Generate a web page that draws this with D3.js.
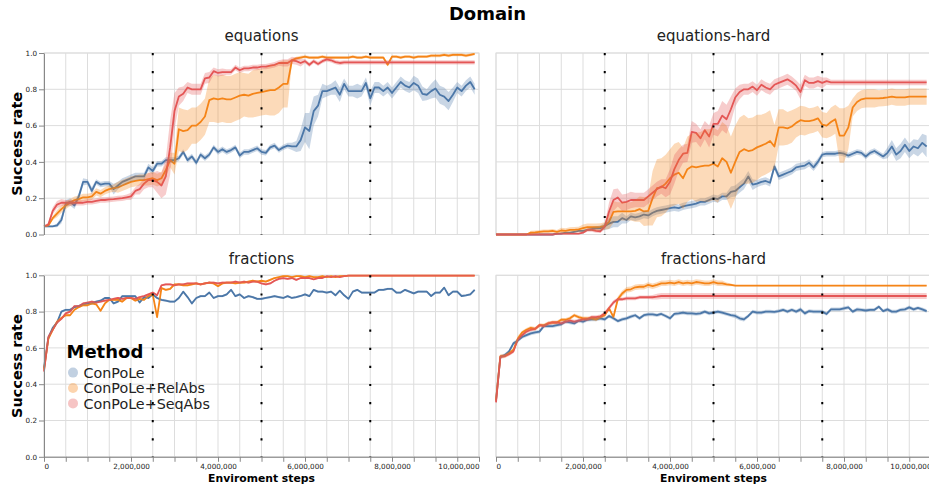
<!DOCTYPE html>
<html>
<head>
<meta charset="utf-8">
<script src="https://cdn.jsdelivr.net/npm/d3@7"></script>
<style>
  body { margin: 0; background: #fff; }
  svg { font-family: "DejaVu Sans", sans-serif; }
</style>
</head>
<body>
<svg id="chart" width="929" height="486"></svg>
<script>
// ************************************
// Data (success rate every 100,000 steps)
// ************************************
const stepSize = 100000;
const domains = ["equations", "equations-hard", "fractions", "fractions-hard"];
const methods = ["ConPoLe", "ConPoLe+RelAbs", "ConPoLe+SeqAbs"];
const yTicks = [0, 0.2, 0.4, 0.6, 0.8, 1.0];
const phaseSteps = [2500000, 5000000, 7500000];

// equations
const eqConPoLe = [
  0.045,0.045,0.045,0.05,0.08,0.17,0.18,0.16,0.21,0.29,
  0.29,0.24,0.29,0.275,0.28,0.28,0.25,0.27,0.29,0.30,
  0.31,0.32,0.32,0.32,0.37,0.35,0.39,0.39,0.41,0.41,
  0.41,0.42,0.455,0.41,0.43,0.395,0.44,0.42,0.44,0.48,
  0.455,0.47,0.455,0.465,0.48,0.435,0.455,0.455,0.465,0.475,
  0.455,0.45,0.48,0.49,0.465,0.48,0.49,0.485,0.485,0.52,
  0.59,0.57,0.68,0.71,0.79,0.79,0.80,0.81,0.77,0.83,
  0.79,0.79,0.79,0.79,0.835,0.75,0.81,0.81,0.79,0.81,
  0.78,0.81,0.84,0.82,0.81,0.835,0.82,0.775,0.77,0.79,
  0.805,0.77,0.76,0.735,0.77,0.81,0.79,0.82,0.84,0.80];
const eqConPoLeBand = [
  0.005,0.005,0.005,0.01,0.02,0.02,0.02,0.02,0.02,0.02,
  0.015,0.02,0.015,0.015,0.015,0.015,0.03,0.02,0.02,0.02,
  0.02,0.02,0.02,0.02,0.02,0.02,0.015,0.015,0.015,0.015,
  0.015,0.015,0.015,0.015,0.015,0.015,0.015,0.015,0.015,0.015,
  0.015,0.015,0.015,0.015,0.015,0.015,0.015,0.015,0.015,0.015,
  0.015,0.015,0.015,0.015,0.015,0.015,0.015,0.02,0.03,0.06,
  0.08,0.1,0.08,0.06,0.04,0.03,0.03,0.04,0.04,0.03,
  0.03,0.03,0.04,0.03,0.03,0.04,0.03,0.03,0.03,0.03,
  0.03,0.03,0.03,0.03,0.03,0.04,0.04,0.04,0.03,0.04,
  0.05,0.05,0.05,0.05,0.04,0.03,0.03,0.03,0.03,0.03];
const eqRelAbs = [
  0.045,0.05,0.09,0.115,0.14,0.16,0.175,0.19,0.195,0.205,
  0.205,0.21,0.235,0.225,0.24,0.25,0.255,0.26,0.27,0.28,
  0.29,0.295,0.30,0.30,0.305,0.31,0.30,0.31,0.355,0.41,
  0.39,0.58,0.57,0.575,0.60,0.60,0.62,0.65,0.74,0.75,
  0.745,0.75,0.745,0.745,0.755,0.765,0.77,0.765,0.775,0.78,
  0.785,0.79,0.795,0.795,0.81,0.83,0.83,0.96,0.97,0.975,
  0.98,0.975,0.975,0.975,0.98,0.975,0.975,0.975,0.975,0.975,
  0.975,0.98,0.975,0.975,0.98,0.975,0.975,0.975,0.975,0.935,
  0.98,0.98,0.975,0.98,0.98,0.975,0.98,0.98,0.98,0.985,
  0.985,0.985,0.99,0.985,0.99,0.99,0.99,0.985,0.99,0.995];
const eqRelAbsBand = [
  0.005,0.005,0.01,0.02,0.02,0.02,0.02,0.02,0.02,0.02,
  0.02,0.02,0.02,0.02,0.02,0.02,0.02,0.03,0.03,0.03,
  0.03,0.03,0.03,0.03,0.035,0.035,0.035,0.035,0.035,0.04,
  0.06,0.12,0.12,0.11,0.1,0.1,0.1,0.1,0.12,0.13,
  0.13,0.13,0.13,0.13,0.13,0.13,0.12,0.12,0.13,0.13,
  0.13,0.13,0.14,0.14,0.14,0.13,0.13,0.01,0.01,0.01,
  0.008,0.008,0.008,0.008,0.008,0.008,0.008,0.008,0.008,0.008,
  0.008,0.008,0.008,0.008,0.008,0.008,0.008,0.008,0.008,0.01,
  0.008,0.008,0.008,0.008,0.008,0.008,0.008,0.008,0.008,0.008,
  0.008,0.008,0.008,0.008,0.008,0.008,0.008,0.008,0.008,0.008];
const eqSeqAbs = [
  0.045,0.055,0.13,0.165,0.175,0.175,0.175,0.175,0.175,0.175,
  0.18,0.18,0.185,0.19,0.19,0.193,0.195,0.198,0.2,0.205,
  0.21,0.24,0.25,0.28,0.30,0.30,0.29,0.27,0.32,0.48,
  0.68,0.76,0.775,0.81,0.80,0.80,0.80,0.86,0.865,0.90,
  0.89,0.895,0.895,0.895,0.92,0.905,0.915,0.915,0.92,0.92,
  0.925,0.925,0.93,0.935,0.945,0.945,0.945,0.96,0.955,0.945,
  0.955,0.935,0.955,0.94,0.955,0.965,0.96,0.95,0.945,0.948,
  0.948,0.948,0.948,0.948,0.948,0.948,0.948,0.948,0.948,0.948,
  0.948,0.948,0.948,0.948,0.948,0.948,0.948,0.948,0.948,0.948,
  0.948,0.948,0.948,0.948,0.948,0.948,0.948,0.948,0.948,0.948];
const eqSeqAbsBand = [
  0.005,0.01,0.02,0.02,0.02,0.015,0.015,0.015,0.015,0.015,
  0.015,0.015,0.015,0.015,0.015,0.015,0.015,0.015,0.015,0.015,
  0.02,0.02,0.03,0.03,0.04,0.04,0.06,0.07,0.1,0.15,
  0.1,0.05,0.04,0.03,0.03,0.03,0.03,0.03,0.03,0.02,
  0.02,0.02,0.015,0.015,0.015,0.015,0.015,0.015,0.015,0.015,
  0.015,0.015,0.015,0.015,0.015,0.02,0.02,0.02,0.02,0.02,
  0.012,0.012,0.012,0.012,0.012,0.012,0.012,0.012,0.012,0.012,
  0.012,0.012,0.012,0.012,0.012,0.012,0.012,0.012,0.012,0.012,
  0.012,0.012,0.012,0.012,0.012,0.012,0.012,0.012,0.012,0.012,
  0.012,0.012,0.012,0.012,0.012,0.012,0.012,0.012,0.012,0.012];

// equations-hard
const ehConPoLe = [
  0,0,0,0,0,0,0,0,0,0,
  0,0,0,0,0.005,0.005,0.01,0.01,0.015,0.02,
  0.02,0.025,0.03,0.035,0.035,0.045,0.06,0.07,0.07,0.09,
  0.08,0.10,0.095,0.10,0.11,0.105,0.12,0.13,0.135,0.14,
  0.145,0.15,0.145,0.155,0.16,0.165,0.17,0.18,0.18,0.19,
  0.20,0.195,0.21,0.21,0.235,0.24,0.26,0.28,0.32,0.275,
  0.28,0.29,0.295,0.285,0.375,0.32,0.33,0.34,0.35,0.37,
  0.375,0.38,0.395,0.37,0.40,0.44,0.445,0.445,0.445,0.45,
  0.445,0.435,0.445,0.455,0.45,0.43,0.45,0.46,0.445,0.43,
  0.45,0.485,0.44,0.46,0.495,0.46,0.485,0.475,0.505,0.485];
const ehConPoLeBand = [
  0.003,0.003,0.003,0.003,0.003,0.003,0.003,0.003,0.003,0.003,
  0.003,0.003,0.003,0.003,0.003,0.003,0.003,0.003,0.003,0.003,
  0.005,0.005,0.01,0.01,0.015,0.02,0.03,0.03,0.03,0.03,
  0.02,0.02,0.02,0.02,0.02,0.02,0.02,0.02,0.02,0.02,
  0.02,0.02,0.02,0.02,0.02,0.02,0.02,0.02,0.02,0.02,
  0.02,0.02,0.02,0.02,0.03,0.03,0.03,0.03,0.03,0.03,
  0.02,0.02,0.02,0.02,0.02,0.02,0.02,0.02,0.02,0.02,
  0.02,0.02,0.02,0.02,0.02,0.015,0.015,0.015,0.015,0.015,
  0.015,0.015,0.015,0.015,0.015,0.015,0.015,0.015,0.015,0.015,
  0.03,0.035,0.035,0.04,0.04,0.04,0.04,0.045,0.05,0.06];
const ehRelAbs = [
  0,0,0,0,0,0,0,0,0.01,0.012,
  0.015,0.017,0.017,0.02,0.015,0.022,0.02,0.025,0.026,0.028,
  0.035,0.04,0.04,0.04,0.042,0.048,0.07,0.125,0.127,0.127,
  0.127,0.127,0.13,0.14,0.127,0.13,0.2,0.255,0.26,0.28,
  0.31,0.33,0.34,0.31,0.36,0.375,0.37,0.375,0.38,0.38,
  0.39,0.375,0.42,0.40,0.34,0.40,0.455,0.47,0.46,0.465,
  0.48,0.49,0.50,0.515,0.485,0.59,0.59,0.585,0.595,0.615,
  0.63,0.625,0.625,0.63,0.64,0.605,0.60,0.62,0.635,0.545,
  0.545,0.59,0.70,0.73,0.745,0.75,0.75,0.75,0.75,0.752,
  0.755,0.76,0.755,0.755,0.755,0.76,0.76,0.76,0.76,0.76];
const ehRelAbsBand = [
  0,0,0,0,0,0,0,0,0.01,0.01,
  0.01,0.01,0.01,0.01,0.01,0.015,0.015,0.015,0.015,0.015,
  0.02,0.02,0.02,0.02,0.02,0.02,0.04,0.06,0.05,0.05,
  0.05,0.05,0.06,0.07,0.08,0.08,0.15,0.16,0.16,0.16,
  0.16,0.17,0.17,0.17,0.18,0.18,0.19,0.19,0.2,0.2,
  0.2,0.2,0.2,0.2,0.2,0.2,0.19,0.19,0.18,0.18,
  0.18,0.17,0.17,0.17,0.12,0.1,0.1,0.09,0.09,0.08,
  0.08,0.08,0.07,0.07,0.07,0.07,0.07,0.08,0.08,0.15,
  0.15,0.12,0.05,0.05,0.05,0.05,0.05,0.05,0.045,0.045,
  0.045,0.045,0.045,0.045,0.045,0.045,0.045,0.045,0.045,0.045];
const ehSeqAbs = [
  0,0,0,0,0,0,0,0,0,0,
  0,0,0,0,0.003,0.005,0.005,0.005,0.005,0.005,
  0.01,0.025,0.025,0.02,0.018,0.044,0.127,0.19,0.204,0.175,
  0.18,0.19,0.19,0.19,0.19,0.21,0.23,0.25,0.265,0.255,
  0.29,0.36,0.41,0.445,0.45,0.565,0.56,0.53,0.575,0.54,
  0.61,0.61,0.655,0.635,0.69,0.755,0.785,0.80,0.80,0.815,
  0.795,0.825,0.81,0.80,0.825,0.835,0.845,0.855,0.84,0.82,
  0.785,0.85,0.835,0.835,0.845,0.835,0.845,0.838,0.838,0.838,
  0.838,0.838,0.838,0.838,0.838,0.838,0.838,0.838,0.838,0.838,
  0.838,0.838,0.838,0.838,0.838,0.838,0.838,0.838,0.838,0.838];
const ehSeqAbsBand = [
  0.003,0.003,0.003,0.003,0.003,0.003,0.003,0.003,0.003,0.003,
  0.003,0.003,0.003,0.003,0.003,0.003,0.003,0.003,0.003,0.003,
  0.005,0.01,0.01,0.01,0.01,0.015,0.05,0.06,0.05,0.045,
  0.045,0.045,0.04,0.04,0.04,0.04,0.04,0.04,0.04,0.05,
  0.07,0.08,0.06,0.05,0.05,0.06,0.05,0.05,0.05,0.06,
  0.06,0.07,0.08,0.08,0.07,0.05,0.04,0.03,0.03,0.03,
  0.03,0.03,0.03,0.03,0.03,0.03,0.03,0.03,0.03,0.03,
  0.04,0.03,0.03,0.03,0.03,0.03,0.02,0.015,0.015,0.015,
  0.015,0.015,0.015,0.015,0.015,0.015,0.015,0.015,0.015,0.015,
  0.015,0.015,0.015,0.015,0.015,0.015,0.015,0.015,0.015,0.015];

// fractions
const frConPoLe = [
  0.49,0.655,0.71,0.74,0.80,0.81,0.81,0.825,0.83,0.84,
  0.845,0.845,0.855,0.86,0.875,0.875,0.845,0.855,0.885,0.885,
  0.885,0.885,0.85,0.88,0.875,0.895,0.875,0.865,0.86,0.855,
  0.855,0.875,0.91,0.88,0.845,0.875,0.885,0.885,0.905,0.875,
  0.885,0.885,0.895,0.92,0.885,0.895,0.875,0.885,0.88,0.87,
  0.87,0.875,0.88,0.885,0.88,0.875,0.885,0.875,0.88,0.886,
  0.895,0.885,0.92,0.91,0.91,0.905,0.91,0.89,0.915,0.89,
  0.87,0.91,0.92,0.905,0.905,0.905,0.905,0.92,0.92,0.925,
  0.925,0.905,0.905,0.92,0.91,0.90,0.91,0.91,0.91,0.886,
  0.905,0.905,0.932,0.89,0.91,0.91,0.886,0.89,0.895,0.92];
const frConPoLeBand = [
  0.01,0.01,0.008,0.008,0.006,0.006,0.006,0.006,0.006,0.006,
  0.006,0.006,0.006,0.006,0.006,0.006,0.006,0.006,0.006,0.006,
  0.006,0.006,0.006,0.006,0.006,0.006,0.006,0.006,0.006,0.006,
  0.006,0.006,0.006,0.006,0.006,0.006,0.006,0.006,0.006,0.006,
  0.006,0.006,0.006,0.006,0.006,0.006,0.006,0.006,0.006,0.006,
  0.006,0.006,0.006,0.006,0.006,0.006,0.006,0.006,0.006,0.006,
  0.006,0.006,0.006,0.006,0.006,0.006,0.006,0.006,0.006,0.006,
  0.006,0.006,0.006,0.006,0.006,0.006,0.006,0.006,0.006,0.006,
  0.006,0.006,0.006,0.006,0.006,0.006,0.006,0.006,0.006,0.006,
  0.006,0.006,0.006,0.006,0.006,0.006,0.006,0.006,0.006,0.006];
const frRelAbs = [
  0.48,0.65,0.70,0.745,0.765,0.78,0.78,0.81,0.825,0.835,
  0.835,0.845,0.84,0.805,0.845,0.865,0.865,0.865,0.855,0.875,
  0.875,0.86,0.87,0.865,0.885,0.895,0.77,0.93,0.92,0.925,
  0.95,0.95,0.945,0.945,0.95,0.955,0.95,0.955,0.96,0.955,
  0.94,0.955,0.96,0.96,0.955,0.96,0.96,0.965,0.97,0.965,
  0.97,0.965,0.975,0.985,0.99,0.995,0.995,0.99,0.995,0.995,
  0.99,0.995,0.99,0.99,0.995,0.99,0.995,0.99,0.995,0.995,
  0.998,0.998,0.998,0.998,0.998,0.998,0.998,0.998,0.998,0.998,
  0.998,0.998,0.998,0.998,0.998,0.998,0.998,0.998,0.998,0.998,
  0.998,0.998,0.998,0.998,0.998,0.998,0.998,0.998,0.998,0.998];
const frRelAbsBand = [
  0.01,0.01,0.008,0.008,0.006,0.006,0.006,0.006,0.006,0.006,
  0.006,0.006,0.006,0.006,0.006,0.006,0.006,0.006,0.006,0.006,
  0.006,0.006,0.006,0.006,0.006,0.006,0.01,0.006,0.006,0.006,
  0.006,0.006,0.006,0.006,0.006,0.006,0.006,0.006,0.006,0.006,
  0.006,0.006,0.006,0.006,0.006,0.006,0.006,0.006,0.006,0.006,
  0.006,0.006,0.006,0.006,0.004,0.004,0.004,0.004,0.004,0.004,
  0.004,0.004,0.004,0.004,0.004,0.004,0.004,0.004,0.004,0.004,
  0.002,0.002,0.002,0.002,0.002,0.002,0.002,0.002,0.002,0.002,
  0.002,0.002,0.002,0.002,0.002,0.002,0.002,0.002,0.002,0.002,
  0.002,0.002,0.002,0.002,0.002,0.002,0.002,0.002,0.002,0.002];
const frSeqAbs = [
  0.47,0.66,0.70,0.74,0.76,0.79,0.80,0.83,0.83,0.845,
  0.85,0.855,0.85,0.855,0.86,0.865,0.87,0.875,0.87,0.875,
  0.875,0.87,0.88,0.885,0.895,0.905,0.89,0.945,0.95,0.95,
  0.945,0.95,0.95,0.955,0.955,0.955,0.95,0.955,0.96,0.96,
  0.955,0.96,0.96,0.96,0.965,0.96,0.965,0.96,0.965,0.965,
  0.955,0.95,0.955,0.97,0.98,0.985,0.98,0.985,0.975,0.985,
  0.985,0.985,0.978,0.985,0.985,0.995,0.99,0.995,0.99,0.995,
  0.998,0.998,0.998,0.998,0.998,0.998,0.998,0.998,0.998,0.998,
  0.998,0.998,0.998,0.998,0.998,0.998,0.998,0.998,0.998,0.998,
  0.998,0.998,0.998,0.998,0.998,0.998,0.998,0.998,0.998,0.998];
const frSeqAbsBand = [
  0.01,0.01,0.008,0.008,0.006,0.006,0.006,0.006,0.006,0.006,
  0.006,0.006,0.006,0.006,0.006,0.006,0.006,0.006,0.006,0.006,
  0.006,0.006,0.006,0.006,0.006,0.006,0.006,0.006,0.006,0.006,
  0.006,0.006,0.006,0.006,0.006,0.006,0.006,0.006,0.006,0.006,
  0.006,0.006,0.006,0.006,0.006,0.006,0.006,0.006,0.006,0.006,
  0.006,0.006,0.006,0.006,0.006,0.006,0.006,0.006,0.006,0.006,
  0.004,0.004,0.004,0.004,0.004,0.004,0.004,0.004,0.004,0.004,
  0.002,0.002,0.002,0.002,0.002,0.002,0.002,0.002,0.002,0.002,
  0.002,0.002,0.002,0.002,0.002,0.002,0.002,0.002,0.002,0.002,
  0.002,0.002,0.002,0.002,0.002,0.002,0.002,0.002,0.002,0.002];

// fractions-hard
const fhConPoLe = [
  0.31,0.55,0.56,0.58,0.625,0.64,0.66,0.67,0.68,0.685,
  0.69,0.72,0.72,0.72,0.725,0.73,0.745,0.74,0.735,0.75,
  0.745,0.755,0.757,0.757,0.763,0.757,0.776,0.763,0.748,0.757,
  0.763,0.772,0.78,0.763,0.78,0.785,0.785,0.78,0.787,0.776,
  0.763,0.787,0.79,0.794,0.79,0.79,0.787,0.79,0.80,0.79,
  0.794,0.80,0.794,0.787,0.78,0.776,0.763,0.757,0.776,0.80,
  0.794,0.794,0.80,0.80,0.798,0.803,0.81,0.80,0.81,0.80,
  0.812,0.79,0.803,0.80,0.80,0.80,0.787,0.812,0.812,0.812,
  0.818,0.823,0.80,0.812,0.81,0.806,0.81,0.81,0.827,0.803,
  0.812,0.80,0.80,0.81,0.812,0.823,0.812,0.82,0.812,0.803];
const fhConPoLeBand = [
  0.01,0.01,0.01,0.01,0.01,0.01,0.01,0.01,0.01,0.01,
  0.01,0.01,0.01,0.01,0.01,0.01,0.01,0.01,0.01,0.01,
  0.01,0.01,0.01,0.01,0.01,0.01,0.01,0.01,0.01,0.01,
  0.01,0.01,0.01,0.01,0.01,0.01,0.01,0.01,0.01,0.01,
  0.01,0.01,0.01,0.01,0.01,0.01,0.01,0.01,0.01,0.01,
  0.01,0.01,0.01,0.01,0.01,0.012,0.012,0.012,0.01,0.01,
  0.01,0.01,0.01,0.01,0.01,0.01,0.01,0.01,0.01,0.01,
  0.012,0.012,0.01,0.01,0.01,0.01,0.01,0.01,0.01,0.01,
  0.01,0.01,0.01,0.01,0.01,0.01,0.01,0.01,0.01,0.01,
  0.01,0.01,0.01,0.01,0.01,0.01,0.01,0.01,0.01,0.01];
const fhRelAbs = [
  0.31,0.555,0.555,0.57,0.59,0.65,0.685,0.70,0.71,0.705,
  0.725,0.725,0.735,0.74,0.74,0.755,0.755,0.763,0.78,0.77,
  0.763,0.763,0.763,0.757,0.77,0.78,0.818,0.77,0.868,0.90,
  0.92,0.923,0.934,0.937,0.937,0.947,0.94,0.947,0.956,0.956,
  0.96,0.956,0.963,0.956,0.96,0.956,0.963,0.96,0.956,0.956,
  0.963,0.956,0.956,0.95,0.947,0.943,0.943,0.943,0.943,0.943,
  0.943,0.943,0.943,0.943,0.943,0.943,0.943,0.943,0.943,0.943,
  0.943,0.943,0.943,0.943,0.943,0.943,0.943,0.943,0.943,0.943,
  0.943,0.943,0.943,0.943,0.943,0.943,0.943,0.943,0.943,0.943,
  0.943,0.943,0.943,0.943,0.943,0.943,0.943,0.943,0.943,0.943];
const fhRelAbsBand = [
  0.01,0.01,0.01,0.01,0.01,0.015,0.01,0.01,0.01,0.01,
  0.01,0.01,0.01,0.01,0.01,0.01,0.01,0.01,0.01,0.01,
  0.01,0.01,0.01,0.01,0.01,0.01,0.01,0.01,0.015,0.015,
  0.015,0.015,0.015,0.015,0.015,0.015,0.015,0.015,0.015,0.015,
  0.015,0.015,0.015,0.015,0.015,0.015,0.015,0.015,0.015,0.015,
  0.015,0.015,0.015,0.01,0.008,0.004,0.004,0.004,0.004,0.004,
  0.004,0.004,0.004,0.004,0.004,0.004,0.004,0.004,0.004,0.004,
  0.004,0.004,0.004,0.004,0.004,0.004,0.004,0.004,0.004,0.004,
  0.004,0.004,0.004,0.004,0.004,0.004,0.004,0.004,0.004,0.004,
  0.004,0.004,0.004,0.004,0.004,0.004,0.004,0.004,0.004,0.004];
const fhSeqAbs = [
  0.30,0.55,0.555,0.565,0.58,0.645,0.67,0.69,0.70,0.705,
  0.725,0.72,0.735,0.74,0.74,0.735,0.745,0.75,0.745,0.75,
  0.757,0.757,0.77,0.77,0.774,0.79,0.82,0.85,0.868,0.868,
  0.873,0.873,0.873,0.879,0.879,0.879,0.879,0.882,0.886,0.886,
  0.886,0.886,0.886,0.886,0.886,0.886,0.886,0.886,0.886,0.886,
  0.886,0.886,0.886,0.886,0.886,0.886,0.886,0.886,0.886,0.886,
  0.886,0.886,0.886,0.886,0.886,0.886,0.886,0.886,0.886,0.886,
  0.886,0.886,0.886,0.886,0.886,0.886,0.886,0.886,0.886,0.886,
  0.886,0.886,0.886,0.886,0.886,0.886,0.886,0.886,0.886,0.886,
  0.886,0.886,0.886,0.886,0.886,0.886,0.886,0.886,0.886,0.886];
const fhSeqAbsBand = [
  0.01,0.01,0.01,0.01,0.01,0.01,0.01,0.01,0.01,0.01,
  0.01,0.01,0.01,0.01,0.01,0.01,0.01,0.01,0.01,0.01,
  0.01,0.01,0.01,0.01,0.01,0.012,0.012,0.012,0.01,0.01,
  0.01,0.01,0.01,0.01,0.01,0.01,0.012,0.016,0.016,0.016,
  0.016,0.016,0.016,0.016,0.016,0.016,0.016,0.016,0.016,0.016,
  0.016,0.016,0.016,0.016,0.016,0.016,0.016,0.016,0.016,0.016,
  0.016,0.016,0.016,0.016,0.016,0.016,0.016,0.016,0.016,0.016,
  0.016,0.016,0.016,0.016,0.016,0.016,0.016,0.016,0.016,0.016,
  0.016,0.016,0.016,0.016,0.016,0.016,0.016,0.016,0.016,0.016,
  0.016,0.016,0.016,0.016,0.016,0.016,0.016,0.016,0.016,0.016];

// series per domain, in methods order
const meanSeries = {
  "equations": [eqConPoLe, eqRelAbs, eqSeqAbs],
  "equations-hard": [ehConPoLe, ehRelAbs, ehSeqAbs],
  "fractions": [frConPoLe, frRelAbs, frSeqAbs],
  "fractions-hard": [fhConPoLe, fhRelAbs, fhSeqAbs]
};
const bandSeries = {
  "equations": [eqConPoLeBand, eqRelAbsBand, eqSeqAbsBand],
  "equations-hard": [ehConPoLeBand, ehRelAbsBand, ehSeqAbsBand],
  "fractions": [frConPoLeBand, frRelAbsBand, frSeqAbsBand],
  "fractions-hard": [fhConPoLeBand, fhRelAbsBand, fhSeqAbsBand]
};

// ************************************
// Layout
// ************************************
let plotW = 435,
  plotH = 181.5;
let colX = [44, 496],
  rowY = [53, 275.3];

let x = d3.scaleLinear()
  .domain([0, 10000000])
  .range([0, plotW]);

let y = d3.scaleLinear()
  .domain([0, 1])
  .range([plotH, 0]);

let color = d3.scaleOrdinal()
  .domain(methods)
  .range(["#4c78a8", "#f58518", "#e45756"]);

let xGrid = d3.range(0, 10000001, 500000);
let fmtComma = d3.format(",");

let svg = d3.select("#chart");

// chart title
svg.append("text")
  .attr("x", 487.5)
  .attr("y", 20)
  .attr("text-anchor", "middle")
  .style("font-size", "18px")
  .style("font-weight", "bold")
  .style("fill", "#000")
  .text("Domain");

// ************************************
// Panels
// ************************************
domains.forEach(function(dom, k) {
  let col = k % 2,
    row = Math.floor(k / 2);
  let g = svg.append("g")
    .attr("transform", "translate(" + colX[col] + "," + rowY[row] + ")");

  // gridlines
  g.selectAll(".vgrid").data(xGrid).enter()
    .append("line")
    .attr("x1", function(d) { return x(d); })
    .attr("x2", function(d) { return x(d); })
    .attr("y1", 0)
    .attr("y2", plotH)
    .style("stroke", "#ddd")
    .style("stroke-width", 1);
  g.selectAll(".hgrid").data(yTicks).enter()
    .append("line")
    .attr("x1", 0)
    .attr("x2", plotW)
    .attr("y1", function(d) { return y(d); })
    .attr("y2", function(d) { return y(d); })
    .style("stroke", "#ddd")
    .style("stroke-width", 1);
  g.append("rect")
    .attr("width", plotW)
    .attr("height", plotH)
    .style("fill", "none")
    .style("stroke", "#ddd");

  // facet header
  g.append("text")
    .attr("x", plotW / 2)
    .attr("y", -11.6)
    .attr("text-anchor", "middle")
    .style("font-size", "15px")
    .style("fill", "#222")
    .text(dom);

  let line = d3.line()
    .x(function(d, i) { return x(i * stepSize); })
    .y(function(d) { return y(d); });

  let area = d3.area()
    .x(function(d, i) { return x(i * stepSize); })
    .y0(function(d) { return y(Math.max(0, d.lo)); })
    .y1(function(d) { return y(Math.min(1, d.hi)); });

  // mean lines
  methods.forEach(function(m, j) {
    g.append("path")
      .datum(meanSeries[dom][j])
      .attr("d", line)
      .style("fill", "none")
      .style("stroke", color(m))
      .style("stroke-width", 1.8)
      .style("stroke-linejoin", "round");
  });

  // confidence bands drawn over the lines
  methods.forEach(function(m, j) {
    let means = meanSeries[dom][j],
      half = bandSeries[dom][j];
    let band = means.map(function(v, i) {
      return { lo: v - half[i], hi: v + half[i] };
    });
    g.append("path")
      .datum(band)
      .attr("d", area)
      .style("fill", color(m))
      .style("opacity", 0.3);
  });

  // phase rules
  g.selectAll(".phase").data(phaseSteps).enter()
    .append("line")
    .attr("x1", function(d) { return x(d); })
    .attr("x2", function(d) { return x(d); })
    .attr("y1", 0)
    .attr("y2", plotH)
    .style("stroke", "#000")
    .style("stroke-width", 2)
    .style("stroke-dasharray", "2.2,15.9");

  // y axis on left column
  if (col === 0) {
    let ya = g.append("g")
      .call(d3.axisLeft(y)
        .tickValues(yTicks)
        .tickFormat(d3.format(".1f"))
        .tickSize(5)
        .tickSizeOuter(0)
        .tickPadding(2));
    ya.select(".domain").style("stroke", "#888");
    ya.selectAll(".tick line").style("stroke", "#888");
    ya.selectAll("text")
      .style("font-size", "7.2px")
      .style("font-family", "DejaVu Sans, sans-serif")
      .style("fill", "#222");

    g.append("text")
      .attr("transform", "translate(-22.5," + (plotH / 2) + ") rotate(-90)")
      .attr("text-anchor", "middle")
      .style("font-size", "14.5px")
      .style("font-weight", "bold")
      .style("fill", "#000")
      .text("Success rate");
  }

  // x axis on bottom row
  if (row === 1) {
    let xa = g.append("g")
      .attr("transform", "translate(0," + plotH + ")")
      .call(d3.axisBottom(x)
        .tickValues(xGrid)
        .tickFormat(function(d) { return d % 2000000 === 0 ? fmtComma(d) : ""; })
        .tickSize(5)
        .tickSizeOuter(0)
        .tickPadding(2));
    xa.select(".domain").style("stroke", "#888");
    xa.selectAll(".tick line").style("stroke", "#888");
    xa.selectAll("text")
      .style("font-size", "7.2px")
      .style("font-family", "DejaVu Sans, sans-serif")
      .style("fill", "#222")
      .attr("text-anchor", function(d) {
        if (d === 0) return "start";
        if (d === 10000000) return "end";
        return "middle";
      });

    g.append("text")
      .attr("x", plotW / 2)
      .attr("y", plotH + 25)
      .attr("text-anchor", "middle")
      .style("font-size", "10.8px")
      .style("font-weight", "bold")
      .style("fill", "#000")
      .text("Enviroment steps");
  }
});

// ************************************
// Legend
// ************************************
let legend = svg.append("g").attr("transform", "translate(66.5,358.3)");
legend.append("text")
  .attr("x", 0)
  .attr("y", 0)
  .style("font-size", "18px")
  .style("font-weight", "bold")
  .style("fill", "#000")
  .text("Method");

let item = legend.selectAll(".item").data(methods).enter()
  .append("g")
  .attr("transform", function(d, i) {
    return "translate(0," + (19.5 + i * 15.4) + ")";
  });
item.append("circle")
  .attr("cx", 6.5)
  .attr("cy", -5.2)
  .attr("r", 5)
  .style("fill", function(d) { return color(d); })
  .style("opacity", 0.35);
item.append("text")
  .attr("x", 17)
  .attr("y", 0)
  .style("font-size", "14.3px")
  .style("fill", "#222")
  .text(function(d) { return d; });
</script>
</body>
</html>
